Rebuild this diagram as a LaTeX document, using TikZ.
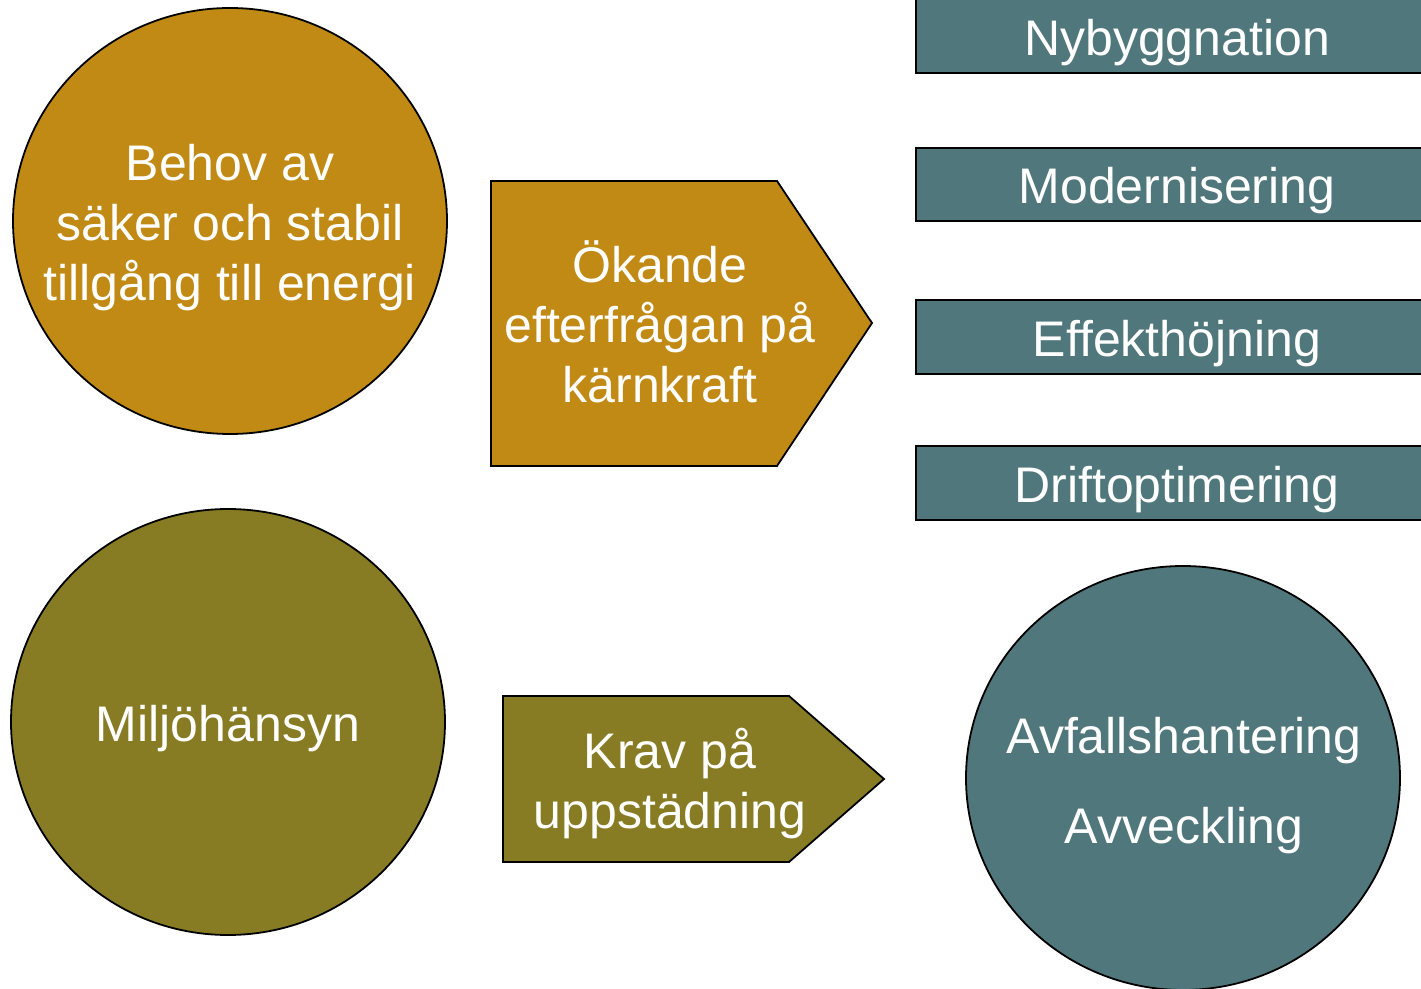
\documentclass[tikz,border=0pt]{standalone}
\usepackage{fontspec}
\setmainfont{Liberation Sans}
\definecolor{gold}{RGB}{193,138,20}
\definecolor{olive}{RGB}{135,124,35}
\definecolor{teal}{RGB}{80,119,123}
\begin{document}
\begin{tikzpicture}[x=0.5pt,y=-0.5pt,
  shapeline/.style={draw=black,line width=0.9pt},
  txt/.style={text=white,font=\fontsize{25}{30}\selectfont,align=center,inner sep=0pt},
  bar/.style={shapeline,fill=teal}]
\useasboundingbox (0,0) rectangle (1421,989);
% circles
\draw[shapeline,fill=gold] (230,221) ellipse [x radius=217, y radius=-213];
\node[txt] (behov) at (230,228) {Behov av\\säker och stabil\\tillgång till energi};
\draw[shapeline,fill=olive] (228,722) ellipse [x radius=217, y radius=-213];
\node[txt] (miljo) at (228,729) {Miljöhänsyn};
\draw[shapeline,fill=teal] (1183,778) ellipse [x radius=217, y radius=-212];
\node[txt] (avfall) at (1184,741) {Avfallshantering};
\node[txt] (avveck) at (1184,831) {Avveckling};
% pentagons
\draw[shapeline,fill=gold] (491,181) -- (777,181) -- (872,323) -- (777,466) -- (491,466) -- cycle;
\node[txt] (okande) at (660,322) {Ökande\\efterfrågan på\\kärnkraft};
\draw[shapeline,fill=olive] (503,696) -- (789,696) -- (884,779) -- (789,862) -- (503,862) -- cycle;
\node[txt] (krav) at (670,784) {Krav på\\uppstädning};
% bars
\draw[bar] (916,-5) rectangle (1430,73);
\node[txt] (nyb) at (1177,43) {Nybyggnation};
\draw[bar] (916,148) rectangle (1430,221);
\node[txt] (mod) at (1177,191) {Modernisering};
\draw[bar] (916,300) rectangle (1430,374);
\node[txt] (eff) at (1177,344) {Effekthöjning};
\draw[bar] (916,446) rectangle (1430,520);
\node[txt] (drift) at (1177,490) {Driftoptimering};
\end{tikzpicture}
\end{document}
